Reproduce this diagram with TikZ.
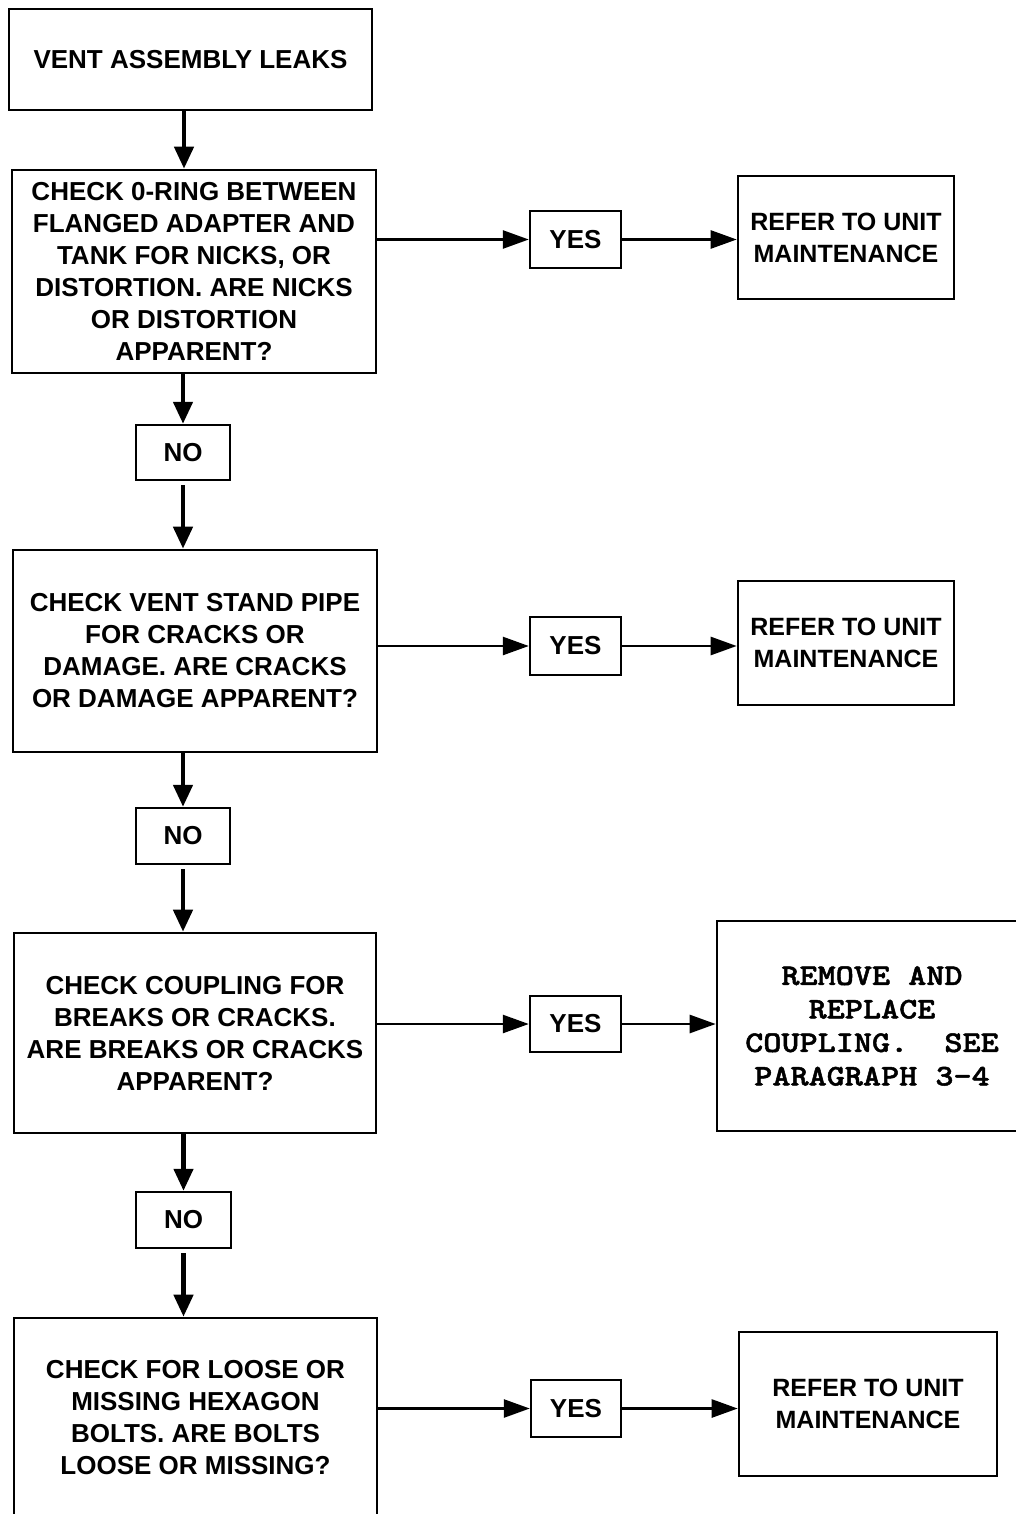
\documentclass[tikz,border=0pt]{standalone}
\usepackage{fontspec}
\setmainfont{Liberation Sans}
\newfontfamily\codefont[FakeStretch=1.15, FakeBold=1.6]{lmmonolt10-bold.otf}
\usetikzlibrary{arrows.meta}

\tikzset{
  box/.style={draw, line width=2.6pt, inner sep=0pt, align=center,
    font=\bfseries\fontsize{26}{32}\selectfont},
  answer/.style={box, line width=2.4pt},
  refer/.style={box, font=\bfseries\fontsize{25}{32}\selectfont},
  codebox/.style={draw, line width=2.6pt, inner sep=0pt, align=center,
    font=\codefont\fontsize{30}{33.5}\selectfont},
  vflow/.style={line width=4.5pt, -{Triangle[length=22pt,width=19pt]}},
  hflow/.style={line width=2.6pt, -{Triangle[length=26pt,width=18pt]}},
}

\begin{document}
\begin{tikzpicture}[x=1pt, y=-1pt]
\clip (0,0) rectangle (1016,1514);
\fill[white] (0,0) rectangle (1016,1514);

% main column of checks
\node[box, minimum width=363pt, minimum height=101pt] (start) at (190.5,59.5)
  {VENT ASSEMBLY LEAKS};
\node[box, minimum width=364pt, minimum height=203pt] (oring) at (194,271.5)
  {CHECK 0-RING BETWEEN\\FLANGED ADAPTER AND\\TANK FOR NICKS, OR\\DISTORTION. ARE NICKS\\OR DISTORTION\\APPARENT?};
\node[answer, minimum width=94pt, minimum height=55pt] (no1) at (183,452.5) {NO};
\node[box, minimum width=364pt, minimum height=202pt] (pipe) at (195,651)
  {CHECK VENT STAND PIPE\\FOR CRACKS OR\\DAMAGE. ARE CRACKS\\OR DAMAGE APPARENT?};
\node[answer, minimum width=94pt, minimum height=56pt] (no2) at (183,836) {NO};
\node[box, minimum width=362pt, minimum height=200pt] (coupling) at (195,1033)
  {CHECK COUPLING FOR\\BREAKS OR CRACKS.\\ARE BREAKS OR CRACKS\\APPARENT?};
\node[answer, minimum width=95pt, minimum height=56pt] (no3) at (183.5,1220) {NO};
\node[box, minimum width=363pt, minimum height=200pt] (bolts) at (195.5,1418)
  {CHECK FOR LOOSE OR\\MISSING HEXAGON\\BOLTS. ARE BOLTS\\LOOSE OR MISSING?};

% yes branches
\node[answer, minimum width=91pt, minimum height=57pt] (yes1) at (575.5,239.5) {YES};
\node[answer, minimum width=91pt, minimum height=58pt] (yes2) at (575.5,646) {YES};
\node[answer, minimum width=91pt, minimum height=56pt] (yes3) at (575.5,1024) {YES};
\node[answer, minimum width=90pt, minimum height=57pt] (yes4) at (576,1408.5) {YES};

\node[refer, minimum width=216pt, minimum height=123pt] (unit1) at (846,237.5)
  {REFER TO UNIT\\MAINTENANCE};
\node[refer, minimum width=216pt, minimum height=124pt] (unit2) at (846,643)
  {REFER TO UNIT\\MAINTENANCE};
\node[codebox, minimum width=310pt, minimum height=210pt] (replace) at (872,1026)
  {REMOVE AND\\REPLACE\\COUPLING.\ \ SEE\\PARAGRAPH 3-4};
\node[refer, minimum width=258pt, minimum height=144pt] (unit4) at (868,1404)
  {REFER TO UNIT\\MAINTENANCE};

% downward flow
\draw[vflow] (start.south -| 184,0) -- (oring.north -| 184,0);
\draw[vflow] (oring.south -| no1.center) -- (no1.north);
\draw[vflow] ([yshift=-4pt]no1.south) -- (pipe.north -| no1.center);
\draw[vflow] (pipe.south -| no2.center) -- (no2.north);
\draw[vflow] ([yshift=-4pt]no2.south) -- (coupling.north -| no2.center);
\draw[vflow] (coupling.south -| no3.center) -- (no3.north);
\draw[vflow] ([yshift=-4pt]no3.south) -- (bolts.north -| no3.center);

% sideways flow
\draw[hflow] (oring.east |- yes1.west) -- (yes1.west);
\draw[hflow] (yes1.east) -- (unit1.west |- yes1.east);
\draw[hflow] (pipe.east |- yes2.west) -- (yes2.west);
\draw[hflow] (yes2.east) -- (unit2.west |- yes2.east);
\draw[hflow] (coupling.east |- yes3.west) -- (yes3.west);
\draw[hflow] (yes3.east) -- (replace.west |- yes3.east);
\draw[hflow] (bolts.east |- yes4.west) -- (yes4.west);
\draw[hflow] (yes4.east) -- (unit4.west |- yes4.east);
\end{tikzpicture}
\end{document}
